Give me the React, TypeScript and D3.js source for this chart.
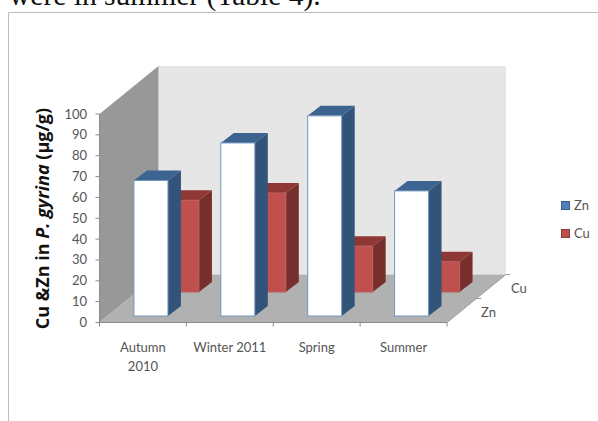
import React from "react";
import * as d3 from "d3";

const seasons = ["Autumn 2010", "Winter 2011", "Spring", "Summer"];
const seasonLines = [["Autumn", "2010"], ["Winter 2011"], ["Spring"], ["Summer"]];
const seriesNames = ["Zn", "Cu"];
const znValues = [65, 83, 96, 60];
const cuValues = [44, 47.5, 22, 14.5];
const yTicks = d3.range(0, 101, 10);

const W = 598;
const H = 421;
const FONT = "Lato, 'Open Sans', sans-serif";
const TEXT = "#555";

// Oblique projection of the chart box: front plane plus a shift for depth.
const x = d3.scaleBand<string>().domain(seasons).range([99.5, 447]);
const y = d3.scaleLinear().domain([0, 100]).range([322.5, 114]);
const depth = { dx: 59, dy: -48 };
const seriesDx = d3.scaleOrdinal<string, number>().domain(seriesNames).range([8, 39]);
const seriesDy = d3.scaleOrdinal<string, number>().domain(seriesNames).range([-6.5, -30.5]);
const barWidth = 34;
const barDepth = { dx: 13, dy: -10 };

const palette: Record<string, { front: string; stroke: string; top: string; side: string }> = {
  Zn: { front: "#ffffff", stroke: "#7396bd", top: "#3d6491", side: "#32547b" },
  Cu: { front: "#c0504d", stroke: "#b9605d", top: "#8f3735", side: "#772f2d" },
};

const poly = (pts: [number, number][]) => pts.map((p) => p.join(",")).join(" ");

function Bar({ season, name, value }: { season: string; name: string; value: number }) {
  const c = palette[name];
  const x0 = (x(season) as number) + (x.bandwidth() - barWidth) / 2 + seriesDx(name);
  const x1 = x0 + barWidth;
  const yBase = y(0) + seriesDy(name);
  const yTop = yBase - (y(0) - y(value));
  const { dx, dy } = barDepth;
  return (
    <g>
      <polygon points={poly([[x0, yTop], [x0 + dx, yTop + dy], [x1 + dx, yTop + dy], [x1, yTop]])} fill={c.top} />
      <polygon points={poly([[x1, yTop], [x1 + dx, yTop + dy], [x1 + dx, yBase + dy], [x1, yBase]])} fill={c.side} />
      <rect x={x0} y={yTop} width={barWidth} height={yBase - yTop} fill={c.front} stroke={c.stroke} strokeWidth={1} />
    </g>
  );
}

export default function App() {
  const xFront = x.range();
  const backLeft = xFront[0] + depth.dx;
  const backRight = xFront[1] + depth.dx;
  const backBottom = y(0) + depth.dy;
  const backTop = y(100) + depth.dy;
  const xTicks = [...seasons.map((s) => x(s) as number), xFront[1]];
  return (
    <svg
      width={W}
      height={H}
      viewBox={`0 0 ${W} ${H}`}
      style={{ position: "absolute", left: 0, top: 0, background: "#fff" }}
    >
      <text x={9} y={5} fontFamily="'Liberation Serif', serif" fontSize={29.5} fill="#111">
        were in summer (Table 4).
      </text>
      <path d={`M8.5,${H}V12.5H${W}`} fill="none" stroke="#bdbdbd" strokeWidth={1} />

      {/* box walls and floor */}
      <rect x={backLeft} y={backTop} width={backRight - backLeft} height={backBottom - backTop} fill="#e6e6e6" />
      <polygon
        points={poly([[xFront[0], y(100)], [backLeft, backTop], [backLeft, backBottom], [xFront[0], y(0)]])}
        fill="#989898"
      />
      <polygon
        points={poly([[xFront[0], y(0)], [xFront[1], y(0)], [backRight, backBottom], [backLeft, backBottom]])}
        fill="#b1b1b1"
      />

      {/* value axis */}
      <line x1={xFront[0]} x2={xFront[0]} y1={y(100)} y2={y(0)} stroke="#8a8a8a" />
      {yTicks.map((t) => (
        <g key={t}>
          <line x1={xFront[0] - 4} x2={xFront[0]} y1={y(t)} y2={y(t)} stroke="#8a8a8a" />
          <text x={87} y={y(t) + 4.5} textAnchor="end" fontFamily={FONT} fontSize={13} fill={TEXT}>
            {t}
          </text>
        </g>
      ))}

      {/* season axis */}
      <line x1={xFront[0]} x2={xFront[1]} y1={y(0)} y2={y(0)} stroke="#8a8a8a" />
      {xTicks.map((t) => (
        <line key={t} x1={t} x2={t} y1={y(0)} y2={y(0) + 4} stroke="#8a8a8a" />
      ))}
      {seasons.map((s, i) => (
        <text key={s} y={352} textAnchor="middle" fontFamily={FONT} fontSize={13} fill={TEXT}>
          {seasonLines[i].map((line, j) => (
            <tspan key={line} x={(x(s) as number) + x.bandwidth() / 2} dy={j === 0 ? 0 : 19}>
              {line}
            </tspan>
          ))}
        </text>
      ))}

      {/* depth axis */}
      <line x1={xFront[1]} y1={y(0)} x2={backRight} y2={backBottom} stroke="#a0a0a0" />
      <line x1={xFront[1] + depth.dx / 2} y1={y(0) + depth.dy / 2} x2={xFront[1] + depth.dx / 2 + 5} y2={y(0) + depth.dy / 2} stroke="#a0a0a0" />
      <line x1={backRight} y1={backBottom} x2={backRight + 4} y2={backBottom} stroke="#a0a0a0" />
      <text x={481} y={317} fontFamily={FONT} fontSize={13} fill={TEXT}>Zn</text>
      <text x={511} y={293} fontFamily={FONT} fontSize={13} fill={TEXT}>Cu</text>

      {/* back row first so the front row overlaps it */}
      {seasons.map((s, i) => <Bar key={s} season={s} name="Cu" value={cuValues[i]} />)}
      {seasons.map((s, i) => <Bar key={s} season={s} name="Zn" value={znValues[i]} />)}

      {/* legend */}
      <rect x={561.5} y={201.5} width={8} height={8} fill="#4f81bd" stroke="#385d8a" />
      <text x={574} y={210} fontFamily={FONT} fontSize={13} fill={TEXT}>Zn</text>
      <rect x={561.5} y={229.5} width={8} height={8} fill="#c0504d" stroke="#8c3836" />
      <text x={574} y={238} fontFamily={FONT} fontSize={13} fill={TEXT}>Cu</text>

      {/* value axis title */}
      <text
        transform="translate(48.5,218.5) rotate(-90)"
        textAnchor="middle"
        fontFamily="'Open Sans', sans-serif"
        fontSize={18}
        fontWeight={700}
        fill="#111"
      >
        Cu &amp;Zn in <tspan fontStyle="italic">P. gyrina</tspan> (µg/g)
      </text>
    </svg>
  );
}
